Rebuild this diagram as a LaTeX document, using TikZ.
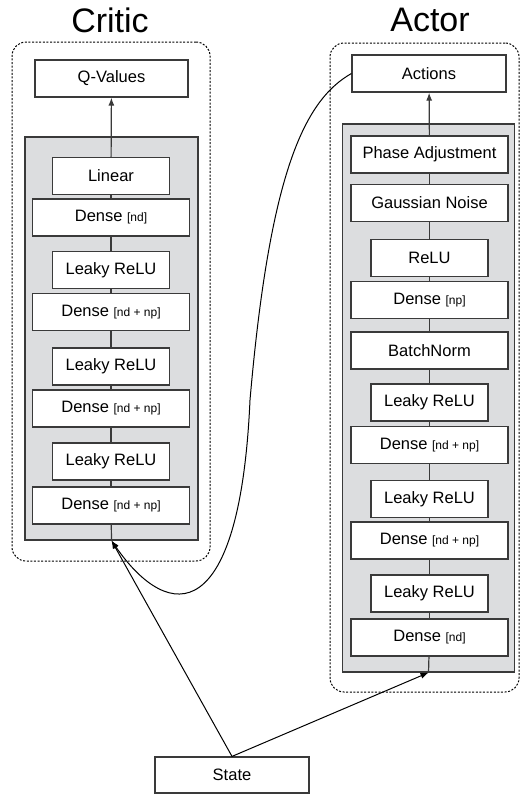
\documentclass[tikz,border=0pt]{standalone}
\usepackage{fontspec}
\setmainfont{Liberation Sans}
\usetikzlibrary{arrows.meta}
\definecolor{panelgray}{HTML}{DCDDDF}
\definecolor{edgegray}{HTML}{3A3A3A}
\newcommand\dimlabel[1]{{\fontsize{12}{14}\selectfont[#1]}}
\tikzset{
  layer/.style={draw=edgegray, line width=1.2pt, fill=white, inner sep=0pt,
    minimum height=37pt, font=\fontsize{16.5}{19}\selectfont},
  wide/.style={layer, minimum width=157pt},
  narrow/.style={layer, minimum width=117pt},
  panel/.style={draw=edgegray, line width=1.2pt, fill=panelgray, inner sep=0pt},
  frame/.style={draw=black, dash pattern=on 2pt off 1.6pt, line width=1pt, rounded corners=14pt, inner sep=0pt},
  title/.style={font=\fontsize{34}{38}\selectfont},
  link/.style={draw=edgegray, line width=1.2pt},
  feed/.style={draw=black, line width=1pt, -{Latex[length=8pt,width=6pt]}}
}
\begin{document}
\begin{tikzpicture}[x=1pt, y=-1pt]
    \useasboundingbox (0,0) rectangle (520,795);
    % critic
    \node[title] (crittitle) at (110,20) {Critic};
    \node[frame, minimum width=198pt, minimum height=519pt] (critframe) at (111,301.5) {};
    \node[panel, minimum width=173pt, minimum height=403pt] (critbg) at (111.5,338.5) {};
    \node[wide, minimum width=153pt] (qval) at (111.5,78.5) {Q-Values};
    \node[narrow] (c1) at (111,176) {Linear};
    \node[wide] (c2) at (111,217.5) {Dense \dimlabel{nd}};
    \node[narrow] (c3) at (111,270) {Leaky ReLU};
    \node[wide] (c4) at (111,312) {Dense \dimlabel{nd + np}};
    \node[narrow] (c5) at (111,366.5) {Leaky ReLU};
    \node[wide] (c6) at (111,408.5) {Dense \dimlabel{nd + np}};
    \node[narrow] (c7) at (111,461.5) {Leaky ReLU};
    \node[wide] (c8) at (111,505.5) {Dense \dimlabel{nd + np}};
    % actor
    \node[title] (acttitle) at (430,20) {Actor};
    \node[frame, minimum width=189pt, minimum height=649pt] (actframe) at (424.5,367.5) {};
    \node[panel, minimum width=172pt, minimum height=548pt] (actbg) at (428.5,398) {};
    \node[wide, minimum width=154pt] (actions) at (429,73.5) {Actions};
    \node[wide] (a1) at (429.5,154.5) {Phase Adjustment};
    \node[wide] (a2) at (429.5,203) {Gaussian Noise};
    \node[narrow] (a3) at (429.5,258) {ReLU};
    \node[wide] (a4) at (429.5,300) {Dense \dimlabel{np}};
    \node[wide] (a5) at (429.5,350.5) {BatchNorm};
    \node[narrow] (a6) at (429.5,402.5) {Leaky ReLU};
    \node[wide] (a7) at (429.5,445) {Dense \dimlabel{nd + np}};
    \node[narrow] (a8) at (429.5,499) {Leaky ReLU};
    \node[wide] (a9) at (429.5,540.5) {Dense \dimlabel{nd + np}};
    \node[narrow] (a10) at (429.5,593.5) {Leaky ReLU};
    \node[wide] (a11) at (429.5,637.5) {Dense \dimlabel{nd}};
    % input
    \node[wide, minimum width=154pt, minimum height=36pt] (state) at (232,775) {State};
    % stacks
    \draw[link] (critbg.south) -- (c8);
    \foreach \a/\b in {c8/c7, c7/c6, c6/c5, c5/c4, c4/c3, c3/c2, c2/c1}
        \draw[link] (\a) -- (\b);
    \draw[link, -{Latex[length=8pt,width=6pt]}] (c1) -- (qval);
    \draw[link] (actbg.south) -- (a11);
    \foreach \a/\b in {a11/a10, a10/a9, a9/a8, a8/a7, a7/a6, a6/a5, a5/a4, a4/a3, a3/a2, a2/a1}
        \draw[link] (\a) -- (\b);
    \draw[link, -{Latex[length=8pt,width=6pt]}] (a1) -- (actions);
    % inputs
    \draw[feed] (state.north) -- (critbg.south);
    \draw[feed] (state.north) -- (actbg.south);
    \draw[feed] (actions.west) .. controls (305,100) and (270,170) .. (250,400)
        .. controls (240,625) and (170,625) .. (critbg.south);
\end{tikzpicture}
\end{document}
